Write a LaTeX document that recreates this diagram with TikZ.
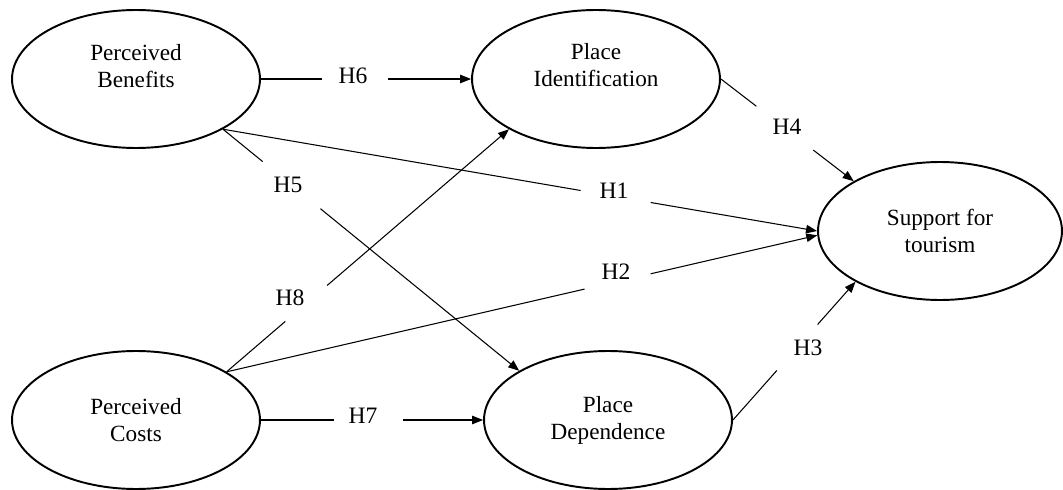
\documentclass[tikz,border=0pt]{standalone}
\usepackage{fontspec}
\setmainfont{Liberation Serif}
\usetikzlibrary{arrows.meta,shapes.geometric}
\begin{document}
\begin{tikzpicture}[x=0.02cm,y=-0.02cm,
  construct/.style={ellipse,draw,line width=1.1pt,minimum width=4.96cm,minimum height=2.76cm,inner sep=0pt},
  ctext/.style={font=\fontsize{13.2}{15.3}\selectfont,align=center},
  hlab/.style={font=\fontsize{13.4}{15}\selectfont,inner sep=0pt},
  link/.style={line width=0.6pt},
  arrowlink/.style={link,-{Triangle[length=0.22cm,width=0.17cm]}}]
\fill[white] (0,0) rectangle (1063,490);
\useasboundingbox (0,0) rectangle (1063,490);

% constructs
\node[construct,label={[ctext,yshift=0.26cm]center:Perceived\\Benefits}] (pb) at (136,79) {};
\node[construct,label={[ctext,yshift=0.27cm]center:Place\\Identification}] (pi) at (596,79) {};
\node[construct,ctext] (pc) at (136,420) {Perceived\\Costs};
\node[construct,ctext] (pd) at (608,420) {Place\\Dependence};
\node[construct,ctext,minimum width=4.88cm] (st) at (940,231) {Support for\\tourism};

% H6
\path (pb.east) -- (pi.west) coordinate[pos=0.292] (h6a) coordinate[pos=0.604] (h6b);
\draw[link] (pb.east) -- (h6a);
\draw[arrowlink] (h6b) -- (pi.west);
\node[hlab] (l6) at (353,76) {H6};

% H7
\path (pc.east) -- (pd.west) coordinate[pos=0.327] (h7a) coordinate[pos=0.641] (h7b);
\draw[link] (pc.east) -- (h7a);
\draw[arrowlink] (h7b) -- (pd.west);
\node[hlab] (l7) at (363,416) {H7};

% H1
\path (pb.-30) -- (st.180) coordinate[pos=0.602] (h1a) coordinate[pos=0.720] (h1b);
\draw[link] (pb.-30) -- (h1a);
\draw[arrowlink] (h1b) -- (st.180);
\node[hlab] (l1) at (614,191) {H1};

% H5
\path (pb.-30) -- (pd.151) coordinate[pos=0.134] (h5a) coordinate[pos=0.329] (h5b);
\draw[link] (pb.-30) -- (h5a);
\draw[arrowlink] (h5b) -- (pd.151);
\node[hlab] (l5) at (288,185) {H5};

% H8
\path (pc.28) -- (pi.210) coordinate[pos=0.208] (h8a) coordinate[pos=0.356] (h8b);
\draw[link] (pc.28) -- (h8a);
\draw[arrowlink] (h8b) -- (pi.210);
\node[hlab] (l8) at (290,298) {H8};

% H2
\path (pc.28) -- (st.182) coordinate[pos=0.606] (h2a) coordinate[pos=0.718] (h2b);
\draw[link] (pc.28) -- (h2a);
\draw[arrowlink] (h2b) -- (st.182);
\node[hlab] (l2) at (616,272) {H2};

% H4
\path (pi.east) -- (st.150) coordinate[pos=0.267] (h4a) coordinate[pos=0.696] (h4b);
\draw[link] (pi.east) -- (h4a);
\draw[arrowlink] (h4b) -- (st.150);
\node[hlab] (l4) at (787,127) {H4};

% H3
\path (pd.east) -- (st.211) coordinate[pos=0.358] (h3a) coordinate[pos=0.691] (h3b);
\draw[link] (pd.east) -- (h3a);
\draw[arrowlink] (h3b) -- (st.211);
\node[hlab] (l3) at (808,348) {H3};
\end{tikzpicture}
\end{document}
